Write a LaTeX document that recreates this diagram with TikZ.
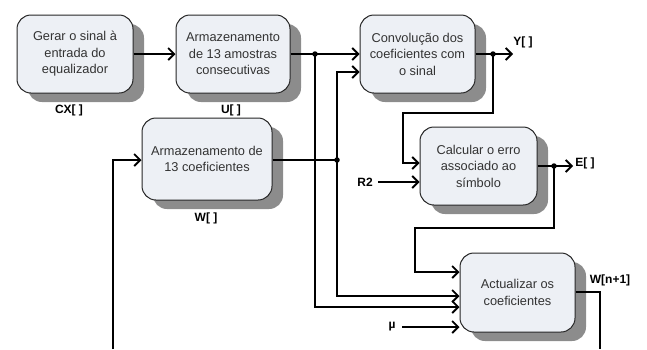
\documentclass[tikz,border=0pt]{standalone}
\usepackage{fontspec}
\setmainfont{Liberation Sans}
\usetikzlibrary{shadows,arrows.meta}
\definecolor{boxfill}{HTML}{EDF0F5}
\definecolor{shade}{HTML}{8C8C8C}
\definecolor{boxtext}{HTML}{333333}
\tikzset{
  procbox/.style={draw=black!85, line width=1pt, fill=boxfill, rounded corners=14pt,
    align=center, text=boxtext, inner sep=2pt,
    font=\fontsize{12.8}{16.5}\selectfont,
    drop shadow={shadow xshift=11pt, shadow yshift=-9pt, fill=shade, opacity=1}},
  wire/.style={line width=1.8pt, draw=black},
  arr/.style={wire, -{Straight Barb[length=6pt,width=12pt,line width=1.8pt]}},
  sig/.style={font=\bfseries\fontsize{12}{14}\selectfont, text=black, inner sep=0pt},
  dot/.style={circle, fill=black, inner sep=0pt, minimum size=5.5pt}
}
\begin{document}
\begin{tikzpicture}[x=1pt,y=-1pt]
\useasboundingbox (0,0) rectangle (647,349);

% processing blocks
\node[procbox, minimum width=116pt, minimum height=78pt] (gen) at (75,54)
  {Gerar o sinal à\\entrada do\\equalizador};
\node[procbox, minimum width=114pt, minimum height=78pt] (stu) at (233,54)
  {Armazenamento\\de 13 amostras\\consecutivas};
\node[procbox, minimum width=115pt, minimum height=78pt] (conv) at (417.5,54)
  {Convolução dos\\coeficientes com\\o sinal};
\node[procbox, minimum width=130pt, minimum height=82pt] (stw) at (207,159)
  {Armazenamento de\\13 coeficientes};
\node[procbox, minimum width=117pt, minimum height=78pt] (err) at (478.5,166)
  {Calcular o erro\\associado ao\\símbolo};
\node[procbox, minimum width=115pt, minimum height=79pt] (upd) at (517.5,292.5)
  {Actualizar os\\coeficientes};

% signal labels
\node[sig] (lcx) at (69,110) {CX[ ]};
\node[sig] (lu)  at (231,110) {U[ ]};
\node[sig] (lw)  at (206,218) {W[ ]};
\node[sig] (ly)  at (523,42) {Y[ ]};
\node[sig] (le)  at (585,163) {E[ ]};
\node[sig] (lr2) at (365,182) {R2};
\node[sig] (lmu) at (392,327) {µ};
\node[sig] (lwn) at (610,280) {W[n+1]};

% junctions and free ends
\coordinate (ju) at (315,54);
\coordinate (jw) at (337,160);
\coordinate (jy) at (493,54);
\coordinate (je) at (554,166);
\coordinate (yend) at (513,54);
\coordinate (eend) at (573,166);
\coordinate (wout) at (600,349);
\coordinate (wback) at (113,349);
\coordinate (r2start) at (378,182);
\coordinate (mustart) at (402,327);

% forward path
\draw[arr] (gen.east) -- (stu.west);
\draw[arr] (stu.east) -- (ju) -- (conv.west);
\draw[arr] (conv.east) -- (jy) -- (yend);
\draw[arr] (err.east |- je) -- (je) -- (eend);

% stored coefficients to convolution and update
\draw[wire] (stw.east |- jw) -- (jw);
\draw[arr] (jw) |- ([yshift=-18pt]conv.west);
\draw[arr] (jw) |- ([yshift=-3.5pt]upd.west);

% stored samples to update
\draw[arr] (ju) |- ([yshift=-14.5pt]upd.west);

% output feeds the error block
\draw[arr] (jy) |- (403,113) |- ([yshift=3pt]err.west);
\draw[arr] (r2start) -- (r2start -| err.west);

% error feeds the update block
\draw[arr] (je) |- (415,228) |- ([yshift=20.5pt]upd.west);
\draw[arr] (mustart) -- (mustart -| upd.west);

% new coefficients and feedback
\draw[wire] (upd.east |- 0,292) -- (600,292) -- (wout);
\draw[arr] (wback) |- ([yshift=-1pt]stw.west);

% junction dots
\node[dot] (dju) at (ju) {};
\node[dot] (djw) at (jw) {};
\node[dot] (djy) at (jy) {};
\node[dot] (dje) at (je) {};
\end{tikzpicture}
\end{document}
